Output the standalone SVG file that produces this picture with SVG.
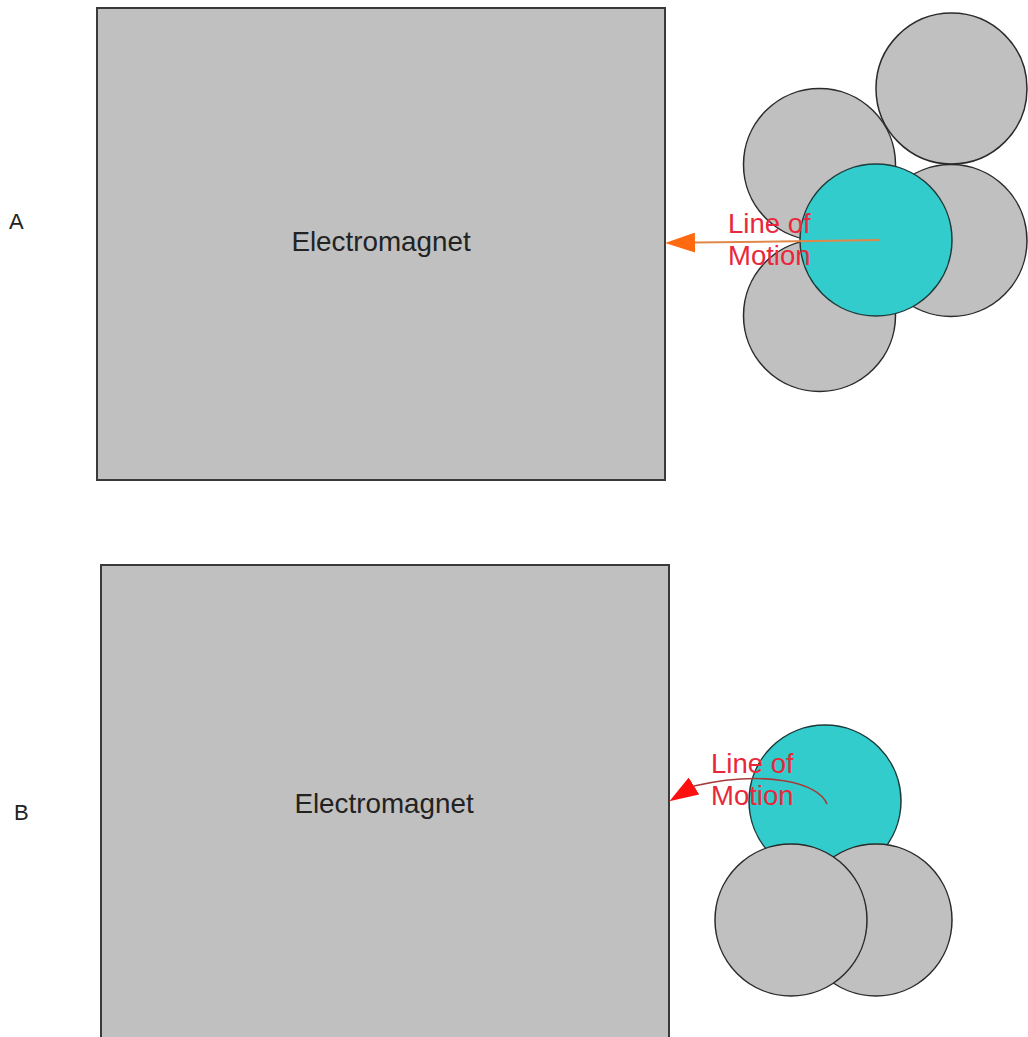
<svg xmlns="http://www.w3.org/2000/svg" width="1028" height="1037" viewBox="0 0 1028 1037">
  <style>
    .magnet { fill: #c0c0c0; stroke: #3a3a3a; stroke-width: 2; }
    .ball { fill: #c0c0c0; stroke: #2a2a2a; stroke-width: 1.5; }
    .target { fill: #33cccc; stroke: #1e3a3a; stroke-width: 1.5; }
    .label { font-family: "Liberation Sans", Arial, sans-serif; fill: #222; }
    .motion { font-family: "Liberation Sans", Arial, sans-serif; font-size: 27.5px; fill: #e8283a; }
  </style>
  <defs>
    <marker id="headOrange" viewBox="0 0 30 20" refX="0" refY="10" markerWidth="30" markerHeight="20" markerUnits="userSpaceOnUse" orient="auto">
      <path d="M0,0 L30,10 L0,20 Z" fill="#ff6a10"/>
    </marker>
    <marker id="headRed" viewBox="0 0 29 20" refX="0" refY="10" markerWidth="29" markerHeight="20" markerUnits="userSpaceOnUse" orient="148">
      <path d="M0,0 L29,10 L0,20 Z" fill="#ff1010"/>
    </marker>
  </defs>

  <!-- panel labels -->
  <text class="label" x="9" y="229" font-size="22">A</text>
  <text class="label" x="14" y="820" font-size="22">B</text>

  <!-- panel A -->
  <g id="magnetA">
    <rect class="magnet" x="97" y="8" width="568" height="472"/>
    <text class="label" x="381" y="251" font-size="27.8" text-anchor="middle">Electromagnet</text>
  </g>
  <g id="ballsA">
    <circle class="ball" cx="951.5" cy="88.5" r="75.5"/>
    <circle class="ball" cx="819.5" cy="164.5" r="76"/>
    <circle class="ball" cx="951" cy="240.5" r="76"/>
    <circle class="ball" cx="819.5" cy="315.5" r="76"/>
    <circle id="targetA" class="target" cx="876" cy="240" r="76"/>
  </g>

  <!-- panel B -->
  <g id="magnetB">
    <rect class="magnet" x="101" y="565" width="568" height="480"/>
    <text class="label" x="384" y="813" font-size="27.8" text-anchor="middle">Electromagnet</text>
  </g>
  <g id="ballsB">
    <circle id="targetB" class="target" cx="825" cy="801" r="76"/>
    <circle class="ball" cx="876" cy="920" r="76"/>
    <circle class="ball" cx="791" cy="920" r="76"/>
  </g>

  <!-- lines of motion -->
  <g id="connectors">
    <path d="M880,240 L695,242.6" fill="none" stroke="#e0884a" stroke-width="2" marker-end="url(#headOrange)"/>
    <path d="M827,804 C818,782 765,770 694,786" fill="none" stroke="#a83a3a" stroke-width="1.6" marker-end="url(#headRed)"/>
    <text class="motion" x="728" y="233">Line of</text>
    <text class="motion" x="728" y="265">Motion</text>
    <text class="motion" x="711" y="773">Line of</text>
    <text class="motion" x="711" y="805">Motion</text>
  </g>
</svg>
